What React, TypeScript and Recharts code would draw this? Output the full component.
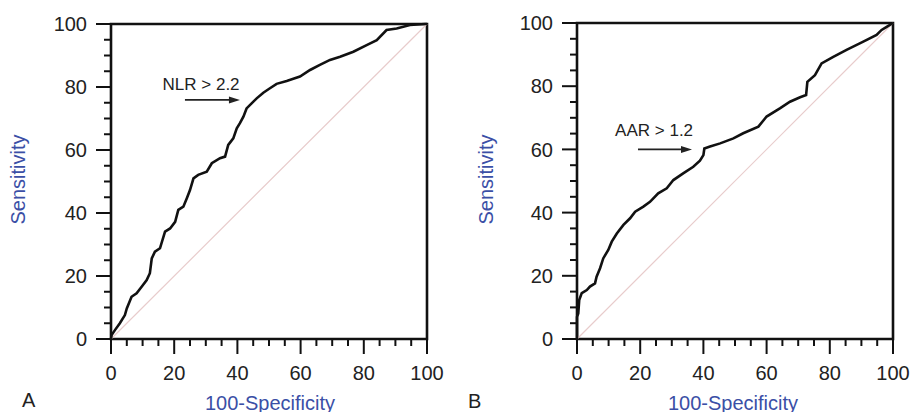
import { LineChart, Line, XAxis, YAxis, ReferenceLine, ReferenceArea, ReferenceDot } from 'recharts';

// Panel A: NLR ROC curve (100-specificity vs sensitivity)
const nlrFpr = [0, 0.2, 1.3, 2.8, 4.4, 5.0, 6.5, 8.1, 9.7, 11.3, 12.3, 12.9, 13.9, 15.5, 17.1, 18.7, 20.3, 21.3, 22.9, 24.0, 25.0, 26.1, 27.6, 30.3, 31.9, 34.5, 36.1, 37.1, 38.7, 39.8, 40.8, 41.9, 42.9, 44.5, 46.1, 48.2, 50.3, 52.4, 55.6, 57.7, 59.8, 63.0, 66.1, 69.3, 72.5, 76.7, 80.9, 84.1, 87.2, 90.4, 94.6, 99.4, 100];
const nlrSens = [0, 1.3, 2.9, 5.0, 7.6, 9.7, 13.4, 14.5, 16.6, 18.7, 20.9, 25.6, 27.7, 28.8, 34.1, 35.1, 37.2, 41.0, 42.0, 44.7, 47.3, 51.0, 52.1, 53.1, 55.8, 57.4, 57.9, 61.6, 63.7, 66.9, 68.5, 70.6, 73.2, 74.8, 76.4, 78.2, 79.6, 81.0, 81.9, 82.6, 83.3, 85.4, 87.0, 88.6, 89.6, 91.2, 93.3, 94.9, 98.1, 98.6, 99.7, 100, 100];

// Panel B: AAR ROC curve
const aarFpr = [0, 0, 0.4, 0.7, 1.5, 3.1, 4.1, 5.7, 6.2, 7.3, 8.3, 9.9, 11.0, 12.6, 14.7, 16.8, 18.4, 21.0, 23.1, 25.7, 28.4, 30.5, 33.6, 36.8, 38.9, 40.0, 40.3, 42.1, 45.3, 49.5, 52.6, 57.4, 60.0, 64.2, 67.4, 70.6, 72.5, 72.9, 75.3, 77.4, 81.1, 85.3, 90.6, 94.8, 96.4, 98.0, 100];
const aarSens = [0, 7.0, 8.1, 12.3, 14.5, 15.5, 16.6, 17.6, 19.7, 22.4, 25.5, 28.2, 30.8, 33.4, 36.1, 38.2, 40.3, 41.9, 43.4, 46.1, 47.7, 50.3, 52.4, 54.5, 56.4, 58.2, 60.3, 60.9, 61.9, 63.5, 65.1, 67.2, 70.4, 73.0, 75.1, 76.5, 77.2, 81.4, 83.5, 87.2, 89.3, 91.5, 94.1, 96.2, 97.8, 98.8, 100];

const axisTicks = [0, 5, 10, 15, 20, 25, 30, 35, 40, 45, 50, 55, 60, 65, 70, 75, 80, 85, 90, 95, 100];
const labelTicks = [0, 20, 40, 60, 80, 100];

const FONT = '"Liberation Sans", Arial, Helvetica, sans-serif';
const BLUE = '#3b4fa6';

const toRows = (xs: number[], ys: number[]) => xs.map((x, i) => ({ x, y: ys[i] }));

const XTick = (props: any) => {
    const { x, y, payload } = props;
    const major = labelTicks.includes(payload.value);
    return (
        <g>
            <line x1={x} y1={y} x2={x} y2={y + (major ? 15 : 7)} stroke="#111" strokeWidth={2} />
            {major && (
                <text x={x} y={y + 41} textAnchor="middle" fontSize={20} fontFamily={FONT} fill="#222">
                    {payload.value}
                </text>
            )}
        </g>
    );
};

const YTick = (props: any) => {
    const { x, y, payload } = props;
    const major = labelTicks.includes(payload.value);
    return (
        <g>
            <line x1={x} y1={y} x2={x - (major ? 15 : 7)} y2={y} stroke="#111" strokeWidth={2} />
            {major && (
                <text x={x - 24} y={y} dy="0.36em" textAnchor="end" fontSize={20} fontFamily={FONT} fill="#222">
                    {payload.value}
                </text>
            )}
        </g>
    );
};

const Arrow = (props: any) => {
    const { x1, y1, x2, y2 } = props;
    return (
        <g>
            <line x1={x1} y1={y1} x2={x2 - 8} y2={y2} stroke="#222" strokeWidth={1.6} />
            <polygon points={`${x2},${y2} ${x2 - 11},${y2 - 3.5} ${x2 - 11},${y2 + 3.5}`} fill="#222" />
        </g>
    );
};

interface RocPanelProps {
    rows: { x: number; y: number }[];
    margin: { top: number; right: number; bottom: number; left: number };
    note: string;
    noteAt: [number, number];
    arrowFrom: number;
    arrowTo: number;
    arrowY: number;
}

function RocPanel({ rows, margin, note, noteAt, arrowFrom, arrowTo, arrowY }: RocPanelProps) {
    return (
        <LineChart width={456} height={412} data={rows} margin={margin}>
            <XAxis
                type="number"
                dataKey="x"
                domain={[0, 100]}
                ticks={axisTicks}
                interval={0}
                height={40}
                axisLine={false}
                tickLine={false}
                tickSize={0}
                tickMargin={0}
                tick={<XTick />}
            />
            <YAxis
                type="number"
                dataKey="y"
                domain={[0, 100]}
                ticks={axisTicks}
                interval={0}
                width={60}
                axisLine={false}
                tickLine={false}
                tickSize={0}
                tickMargin={0}
                tick={<YTick />}
            />
            <ReferenceArea x1={0} x2={100} y1={0} y2={100} fill="none" stroke="#111" strokeWidth={2.6} fillOpacity={0} />
            <ReferenceLine segment={[{ x: 0, y: 0 }, { x: 100, y: 100 }]} stroke="#e8cccc" strokeWidth={1.2} />
            <ReferenceLine segment={[{ x: arrowFrom, y: arrowY }, { x: arrowTo, y: arrowY }]} shape={<Arrow />} />
            <ReferenceDot
                x={noteAt[0]}
                y={noteAt[1]}
                r={0}
                shape={(p: any) => (
                    <text x={p.cx} y={p.cy} textAnchor="middle" fontSize={17} fontFamily={FONT} fill="#222">
                        {note}
                    </text>
                )}
            />
            <Line
                type="linear"
                dataKey="y"
                stroke="#111"
                strokeWidth={2.6}
                dot={false}
                isAnimationActive={false}
            />
        </LineChart>
    );
}

export default function App() {
    return (
        <div style={{ position: 'absolute', left: 0, top: 0, width: 912, height: 412, background: '#fff', overflow: 'hidden' }}>
            <div style={{ position: 'absolute', left: 0, top: 0 }}>
                <RocPanel
                    rows={toRows(nlrFpr, nlrSens)}
                    margin={{ top: 24, right: 29, bottom: 33, left: 51 }}
                    note="NLR > 2.2"
                    noteAt={[28.5, 79.0]}
                    arrowFrom={23.4}
                    arrowTo={40.8}
                    arrowY={75.9}
                />
            </div>
            <div style={{ position: 'absolute', left: 456, top: 0 }}>
                <RocPanel
                    rows={toRows(aarFpr, aarSens)}
                    margin={{ top: 23, right: 19, bottom: 33, left: 61 }}
                    note="AAR > 1.2"
                    noteAt={[24.4, 64.3]}
                    arrowFrom={19.3}
                    arrowTo={36.4}
                    arrowY={60.0}
                />
            </div>
            <svg width={912} height={412} style={{ position: 'absolute', left: 0, top: 0, pointerEvents: 'none' }}>
                <text x={25} y={179.5} transform="rotate(-90 25 179.5)" textAnchor="middle" fontSize={20} fontFamily={FONT} fill={BLUE}>
                    Sensitivity
                </text>
                <text x={493} y={179.5} transform="rotate(-90 493 179.5)" textAnchor="middle" fontSize={20} fontFamily={FONT} fill={BLUE}>
                    Sensitivity
                </text>
                <text x={270} y={409.5} textAnchor="middle" fontSize={20} fontFamily={FONT} fill={BLUE}>
                    100-Specificity
                </text>
                <text x={733} y={409.5} textAnchor="middle" fontSize={20} fontFamily={FONT} fill={BLUE}>
                    100-Specificity
                </text>
                <text x={22} y={407} fontSize={20} fontFamily={FONT} fill="#222">
                    A
                </text>
                <text x={468} y={408} fontSize={20} fontFamily={FONT} fill="#222">
                    B
                </text>
            </svg>
        </div>
    );
}
